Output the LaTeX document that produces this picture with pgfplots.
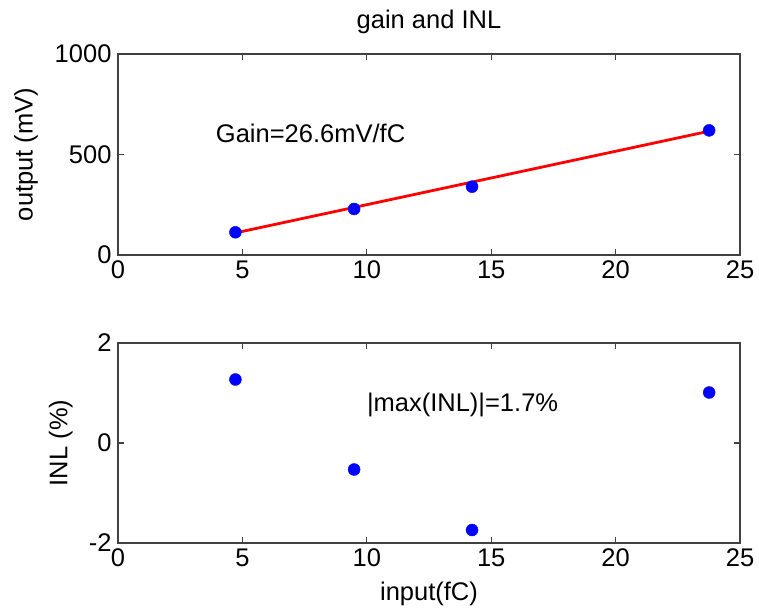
\documentclass[border=0pt]{standalone}
\usepackage{pgfplots}
\pgfplotsset{compat=1.18}
\usepackage{fontspec}
\setmainfont{Liberation Sans}
\begin{document}
\begin{tikzpicture}
\useasboundingbox (0pt,0pt) rectangle (759pt,-613pt);
\pgfplotsset{
  every axis/.append style={
    scale only axis, width=622pt,
    xmin=0, xmax=25, xtick={0,5,10,15,20,25},
    tick align=inside, major tick length=6pt,
    axis line style={draw=black!75, line width=1.1pt},
    every tick/.style={black!75, line width=1.1pt},
    /pgf/number format/assume math mode=true,
    /pgf/number format/1000 sep={},
    tick label style={font=\fontsize{25.5}{30}\selectfont},
    xticklabel style={yshift=-2pt},
    yticklabel style={xshift=-3pt},
    label style={font=\fontsize{25.5}{30}\selectfont},
    title style={font=\fontsize{25.5}{30}\selectfont},
  }
}
\begin{axis}[at={(118pt,-54pt)}, anchor=north west, height=201pt,
  ymin=0, ymax=1000, ytick={0,500,1000},
  ylabel={output (mV)},
  ylabel style={at={(axis description cs:-0.148,0.5)}, anchor=center},
  title={gain and INL},
  title style={at={(axis description cs:0.5,1)}, anchor=base, yshift=20pt},
]
\addplot[red, line width=2.8pt] coordinates {(4.72,110) (23.76,616)};
\addplot[only marks, mark=*, mark size=6pt, color=blue, mark options={fill=blue, draw=blue}]
  coordinates {(4.72,113) (9.49,229) (14.23,340) (23.76,620)};
\node[anchor=base west, inner sep=0pt, font=\fontsize{25.5}{30}\selectfont] at (axis cs:3.93,562) {Gain=26.6mV/fC};
\end{axis}
\begin{axis}[at={(118pt,-343pt)}, anchor=north west, height=200pt,
  ymin=-2, ymax=2, ytick={-2,0,2},
  ylabel={INL (\%)},
  ylabel style={at={(axis description cs:-0.092,0.5)}, anchor=center},
  xlabel={input(fC)},
  xlabel style={at={(axis description cs:0.5,0)}, anchor=base, yshift=-57pt},
]
\addplot[only marks, mark=*, mark size=6pt, color=blue, mark options={fill=blue, draw=blue}]
  coordinates {(4.72,1.27) (9.49,-0.53) (14.23,-1.74) (23.76,1.01)};
\node[anchor=base west, inner sep=0pt, font=\fontsize{25.5}{30}\selectfont] at (axis cs:10.0,0.64) {|max(INL)|=1.7\%};
\end{axis}
\end{tikzpicture}
\end{document}
